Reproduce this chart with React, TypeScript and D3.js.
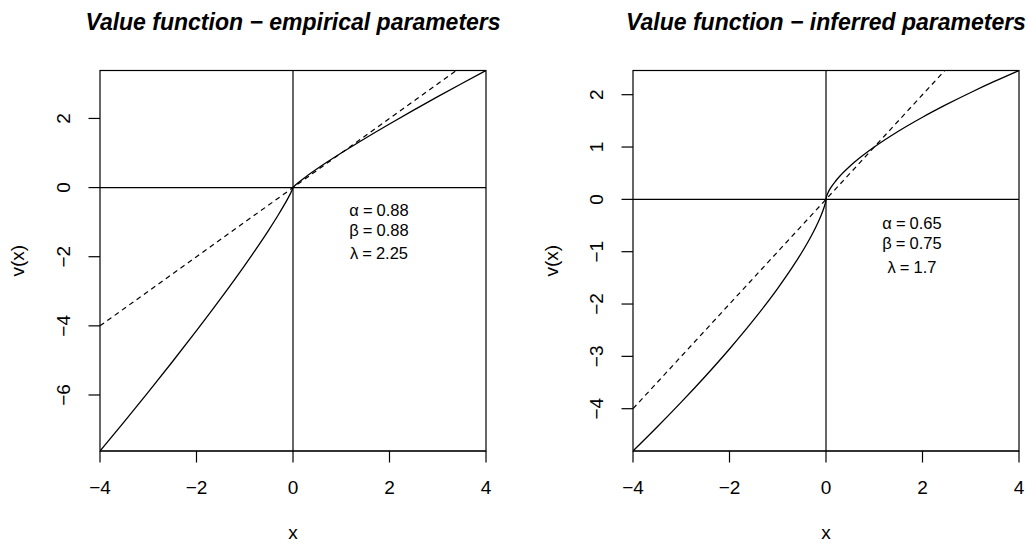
import { scaleLinear, line, curveMonotoneX, min, max } from "d3";

// sample points of the two value functions
const xs = [
  -4, -3.5, -3, -2.5, -2, -1.5, -1, -0.7, -0.5, -0.3, -0.2, -0.1, -0.05, -0.02, -0.005, 0,
  0.005, 0.02, 0.05, 0.1, 0.2, 0.3, 0.5, 0.7, 1, 1.5, 2, 2.5, 3, 3.5, 4,
];
const vEmpirical = [
  -7.6203, -6.7759, -5.9164, -5.0393, -4.1409, -3.2148, -2.25, -1.6439, -1.2227, -0.7799,
  -0.5459, -0.2966, -0.161, -0.072, -0.0213, 0,
  0.0095, 0.032, 0.0716, 0.1318, 0.2428, 0.3466, 0.5434, 0.7306, 1, 1.4288, 1.8404, 2.2397,
  2.6295, 3.0115, 3.3868,
];
const vInferred = [
  -4.8083, -4.3501, -3.8752, -3.3799, -2.8591, -2.3042, -1.7, -1.301, -1.0109, -0.6892,
  -0.5084, -0.3023, -0.1797, -0.0904, -0.032, 0,
  0.032, 0.0786, 0.1427, 0.2239, 0.3513, 0.4572, 0.6373, 0.7931, 1, 1.3016, 1.5692, 1.8141,
  2.0424, 2.2577, 2.4623,
];
const diagonal = [-4, 4];

const xTicks = [-4, -2, 0, 2, 4];
const yTicksEmpirical = [-6, -4, -2, 0, 2];
const yTicksInferred = [-4, -3, -2, -1, 0, 1, 2];

const paramsEmpirical = [
  ["α", "0.88"],
  ["β", "0.88"],
  ["λ", "2.25"],
];
const paramsInferred = [
  ["α", "0.65"],
  ["β", "0.75"],
  ["λ", "1.7"],
];

const FONT = "'Liberation Sans', Arial, Helvetica, sans-serif";
const TOP = 70.5;
const BOTTOM = 451;
const TICK = 11.5;

const fmt = (d: number) => (d < 0 ? "\u2212" + Math.abs(d) : String(d));

interface PanelProps {
  id: string;
  title: string;
  left: number;
  right: number;
  values: number[];
  yTicks: number[];
  params: string[][];
  paramLines: number[];
  ylabX: number;
}

function Panel({ id, title, left, right, values, yTicks, params, paramLines, ylabX }: PanelProps) {
  const x = scaleLinear().domain([-4, 4]).range([left, right]);
  const y = scaleLinear()
    .domain([min(values) as number, max(values) as number])
    .range([BOTTOM, TOP]);

  const pts = xs.map((d, i) => [d, values[i]] as [number, number]);
  const curve = line<[number, number]>()
    .x((d) => x(d[0]))
    .y((d) => y(d[1]))
    .curve(curveMonotoneX);
  const diag = line<number>()
    .x((d) => x(d))
    .y((d) => y(d));

  const cx = (left + right) / 2;
  const cy = (TOP + BOTTOM) / 2;
  const textX = x(0) + 86;

  return (
    <g fontFamily={FONT}>
      <defs>
        <clipPath id={id}>
          <rect x={left} y={TOP} width={right - left} height={BOTTOM - TOP} />
        </clipPath>
      </defs>
      <text x={cx} y={30} textAnchor="middle" fontSize={23} fontWeight="bold" fontStyle="italic">
        {title}
      </text>

      <g clipPath={`url(#${id})`} fill="none" stroke="#000">
        <line x1={left} x2={right} y1={y(0)} y2={y(0)} strokeWidth={1.2} />
        <line x1={x(0)} x2={x(0)} y1={TOP} y2={BOTTOM} strokeWidth={1.2} />
        <path d={diag(diagonal) ?? undefined} strokeWidth={1.2} strokeDasharray="5,4" />
        <path d={curve(pts) ?? undefined} strokeWidth={1.3} />
      </g>

      <rect x={left} y={TOP} width={right - left} height={BOTTOM - TOP} fill="none" stroke="#000" strokeWidth={1.2} />

      {/* x axis */}
      <line x1={x(-4)} x2={x(4)} y1={BOTTOM} y2={BOTTOM} stroke="#000" strokeWidth={1.2} />
      {xTicks.map((t) => (
        <g key={t}>
          <line x1={x(t)} x2={x(t)} y1={BOTTOM} y2={BOTTOM + TICK} stroke="#000" strokeWidth={1.2} />
          <text x={x(t)} y={494} textAnchor="middle" fontSize={19}>
            {fmt(t)}
          </text>
        </g>
      ))}
      <text x={x(0)} y={539} textAnchor="middle" fontSize={19}>
        x
      </text>

      {/* y axis */}
      {yTicks.map((t) => (
        <g key={t}>
          <line x1={left - TICK} x2={left} y1={y(t)} y2={y(t)} stroke="#000" strokeWidth={1.2} />
          <text
            transform={`translate(${left - 30},${y(t)}) rotate(-90)`}
            textAnchor="middle"
            fontSize={19}
          >
            {fmt(t)}
          </text>
        </g>
      ))}
      <text transform={`translate(${ylabX},${cy}) rotate(-90)`} textAnchor="middle" fontSize={19}>
        v(x)
      </text>

      {params.map((p, i) => (
        <text key={p[0]} x={textX} y={paramLines[i]} textAnchor="middle" fontSize={16.5}>
          {p[0]}
          <tspan dx={4}>=</tspan>
          <tspan dx={4}>{p[1]}</tspan>
        </text>
      ))}
    </g>
  );
}

export default function App() {
  return (
    <svg
      width={1028}
      height={544}
      style={{ position: "absolute", left: 0, top: 0, background: "#fff" }}
    >
      <rect width={1028} height={544} fill="#fff" />
      <Panel
        id="c1"
        title="Value function − empirical parameters"
        left={100}
        right={486}
        values={vEmpirical}
        yTicks={yTicksEmpirical}
        params={paramsEmpirical}
        paramLines={[216, 236, 259]}
        ylabX={24}
      />
      <Panel
        id="c2"
        title="Value function − inferred parameters"
        left={633}
        right={1019}
        values={vInferred}
        yTicks={yTicksInferred}
        params={paramsInferred}
        paramLines={[229, 249, 273]}
        ylabX={558}
      />
    </svg>
  );
}
